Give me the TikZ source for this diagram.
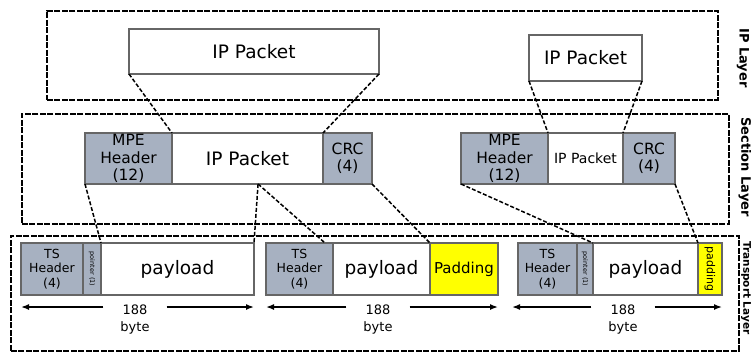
\documentclass[tikz,border=0pt]{standalone}
\usepackage{fontspec}
\setmainfont{DejaVu Sans}
\usetikzlibrary{arrows.meta, calc, positioning}
\definecolor{hdrgray}{RGB}{167,177,193}
\definecolor{padyellow}{RGB}{255,255,0}
\tikzset{
  cell/.style={draw=black!60, line width=1.4pt, rectangle, fill=white, minimum height=51pt, inner sep=0pt, outer sep=0pt, align=center},
  graycell/.style={cell, fill=hdrgray},
  padcell/.style={cell, fill=padyellow},
  layerbox/.style={draw, rectangle, line width=1.8pt, dash pattern=on 6pt off 1.5pt, inner sep=0pt, anchor=north west},
  link/.style={line width=1.5pt, dash pattern=on 4pt off 2pt},
  span/.style={-{Latex[length=8pt,width=6pt]}, line width=1.5pt},
  bytelbl/.style={align=center, inner xsep=17pt, inner ysep=0pt, font=\fontsize{13}{17}\selectfont},
  laylbl/.style={rotate=-90, font=\bfseries\fontsize{13}{15}\selectfont},
  big/.style={font=\fontsize{18.5}{22}\selectfont},
  mid/.style={font=\fontsize{15.5}{17.5}\selectfont},
  small/.style={font=\fontsize{12.5}{14.5}\selectfont}
}

\begin{document}
\begin{tikzpicture}[x=1pt, y=-1pt, node distance=0pt]
\useasboundingbox (0,0) rectangle (751,356);

\node (iplay) [layerbox, minimum width=671pt, minimum height=89pt] at (46,10) {};
\node (seclay) [layerbox, minimum width=707pt, minimum height=110pt] at (21,113) {};
\node (trlay) [layerbox, minimum width=728pt, minimum height=115pt] at (10,235) {};
\node (lblip) [laylbl] at (743,58) {IP Layer};
\node (lblsec) [laylbl] at (745,167) {Section Layer};
\node (lbltr) [laylbl, font=\bfseries\fontsize{10.5}{12}\selectfont] at (746,288) {Transport Layer};

\node (ip1) [cell, big, anchor=north west, minimum width=250pt, minimum height=45pt] at (129,29) {IP Packet};
\node (ip2) [cell, big, anchor=north west, minimum width=113pt, minimum height=46pt] at (529,35) {IP Packet};

\node (s1mpe) [graycell, mid, anchor=north west, minimum width=87pt] at (85,133) {MPE\\Header\\(12)};
\node (s1ip) [cell, big, right=of s1mpe, minimum width=151pt] {IP Packet};
\node (s1crc) [graycell, mid, right=of s1ip, minimum width=49pt] {CRC\\(4)};

\node (s2mpe) [graycell, mid, anchor=north west, minimum width=87pt] at (461,133) {MPE\\Header\\(12)};
\node (s2ip) [cell, right=of s2mpe, minimum width=75pt, font=\fontsize{14}{16}\selectfont] {IP Packet};
\node (s2crc) [graycell, mid, right=of s2ip, minimum width=52pt] {CRC\\(4)};

\node (ts1h) [graycell, small, anchor=north west, minimum width=62pt, minimum height=52pt] at (21,243) {TS\\Header\\(4)};
\node (ts1ptr) [graycell, right=of ts1h, minimum width=18pt, minimum height=52pt, font=\fontsize{6.5}{7}\selectfont] {\rotatebox{-90}{pointer (1)}};
\node (ts1p) [cell, big, right=of ts1ptr, minimum width=153pt, minimum height=52pt] {payload};

\node (ts2h) [graycell, small, anchor=north west, minimum width=67pt, minimum height=52pt] at (266,243) {TS\\Header\\(4)};
\node (ts2p) [cell, big, right=of ts2h, minimum width=97pt, minimum height=52pt] {payload};
\node (ts2pad) [padcell, right=of ts2p, minimum width=68pt, minimum height=52pt, font=\fontsize{15}{17}\selectfont] {Padding};

\node (ts3h) [graycell, small, anchor=north west, minimum width=59pt, minimum height=52pt] at (518,243) {TS\\Header\\(4)};
\node (ts3ptr) [graycell, right=of ts3h, minimum width=16pt, minimum height=52pt, font=\fontsize{6.5}{7}\selectfont] {\rotatebox{-90}{pointer (1)}};
\node (ts3p) [cell, big, right=of ts3ptr, minimum width=105pt, minimum height=52pt] {payload};
\node (ts3pad) [padcell, right=of ts3p, minimum width=24pt, minimum height=52pt, font=\fontsize{11}{12}\selectfont] {\rotatebox{-90}{padding}};

\node (b1) [bytelbl] at (135,320) {188\\byte};
\node (b2) [bytelbl] at (378,320) {188\\byte};
\node (b3) [bytelbl] at (623,320) {188\\byte};
\draw[span] ([yshift=13pt]b1.west) -- ([yshift=13pt]b1.west -| ts1h.west);
\draw[span] ([yshift=13pt]b1.east) -- ([yshift=13pt]b1.east -| ts1p.east);
\draw[span] ([yshift=13pt]b2.west) -- ([yshift=13pt]b2.west -| ts2h.west);
\draw[span] ([yshift=13pt]b2.east) -- ([yshift=13pt]b2.east -| ts2pad.east);
\draw[span] ([yshift=13pt]b3.west) -- ([yshift=13pt,xshift=-6pt]b3.west -| ts3h.west);
\draw[span] ([yshift=13pt]b3.east) -- ([yshift=13pt]b3.east -| ts3pad.east);

\coordinate (cut) at ($(s1ip.south west)!0.57!(s1ip.south east)$);
\draw[link] (ip1.south west) -- (s1ip.north west);
\draw[link] (ip1.south east) -- (s1ip.north east);
\draw[link] (ip2.south west) -- (s2ip.north west);
\draw[link] (ip2.south east) -- (s2ip.north east);
\draw[link] (s1mpe.south west) -- (ts1p.north west);
\draw[link] (cut) -- (ts1p.north east);
\draw[link] (cut) -- ([xshift=-8pt]ts2p.north west);
\draw[link] (s1crc.south east) -- (ts2pad.north west);
\draw[link] (s2mpe.south west) -- (ts3p.north west);
\draw[link] (s2crc.south east) -- (ts3pad.north west);
\end{tikzpicture}
\end{document}
